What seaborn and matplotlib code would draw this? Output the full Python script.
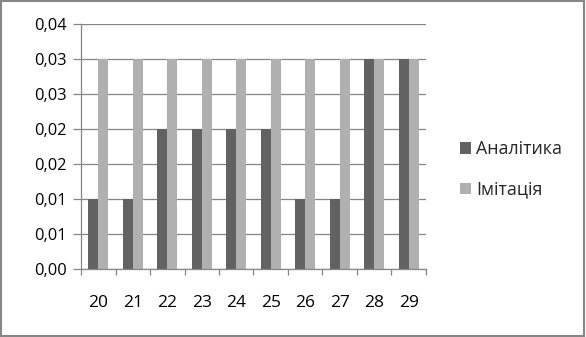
import matplotlib
matplotlib.use("Agg")
import matplotlib.pyplot as plt
import seaborn as sns
import pandas as pd
from matplotlib.patches import Rectangle

categories = ["20", "21", "22", "23", "24", "25", "26", "27", "28", "29"]
analytics = [0.01, 0.01, 0.02, 0.02, 0.02, 0.02, 0.01, 0.01, 0.03, 0.03]
imitation = [0.03, 0.03, 0.03, 0.03, 0.03, 0.03, 0.03, 0.03, 0.03, 0.03]
series_names = ["Аналітика", "Імітація"]
y_ticks = [0.0, 0.005, 0.01, 0.015, 0.02, 0.025, 0.03, 0.035]
y_tick_labels = ["0,00", "0,01", "0,01", "0,02", "0,02", "0,03", "0,03", "0,04"]

df = pd.DataFrame({
    "cat": categories * 2,
    "value": analytics + imitation,
    "series": [series_names[0]] * len(categories) + [series_names[1]] * len(categories),
})

sns.set_theme(style="white")
plt.rcParams["font.family"] = ["Open Sans", "DejaVu Sans"]

fig = plt.figure(figsize=(5.86, 3.37), dpi=100)
ax = fig.add_axes([81 / 586, 1 - 269 / 337, 345 / 586, 245 / 337])

grid_c = "#868686"
sns.barplot(data=df, x="cat", y="value", hue="series", order=categories,
            hue_order=series_names, palette=["#626262", "#b0b0b0"],
            width=0.58, saturation=1, linewidth=0, ax=ax, legend=True)

ax.set_xlim(-0.5, len(categories) - 0.5)
ax.set_ylim(0, 0.035)
ax.set_yticks(y_ticks)
ax.set_yticklabels(y_tick_labels)
ax.yaxis.grid(True, color=grid_c, linewidth=0.9)
ax.set_axisbelow(True)
ax.set_xlabel("")
ax.set_ylabel("")
for s in ["top", "right"]:
    ax.spines[s].set_visible(False)
for s in ["left", "bottom"]:
    ax.spines[s].set_color(grid_c)
    ax.spines[s].set_linewidth(0.9)

ax.set_xticks([i - 0.5 for i in range(len(categories) + 1)], minor=True)
ax.tick_params(axis="x", which="major", length=0, pad=19, labelsize=12.5, colors="black")
ax.tick_params(axis="x", which="minor", length=4, width=0.9, color=grid_c, direction="out", bottom=True)
ax.tick_params(axis="y", which="major", length=6, width=0.9, color=grid_c, direction="out",
               left=True, pad=4, labelsize=11.8, labelcolor="black")

ax.legend_.remove()
handles, labels = ax.get_legend_handles_labels()
fig.legend(handles, labels, loc="center left", bbox_to_anchor=(453 / 586, 1 - 169.5 / 337),
           frameon=False, fontsize=12.8, handlelength=0.6, handleheight=0.6,
           handletextpad=0.3, labelspacing=1.25, borderaxespad=0)

fig.patches.append(Rectangle((0.002, 0.003), 0.995, 0.994, transform=fig.transFigure,
                             fill=False, edgecolor=grid_c, linewidth=1.5))

fig.savefig("out.png", dpi=100)
